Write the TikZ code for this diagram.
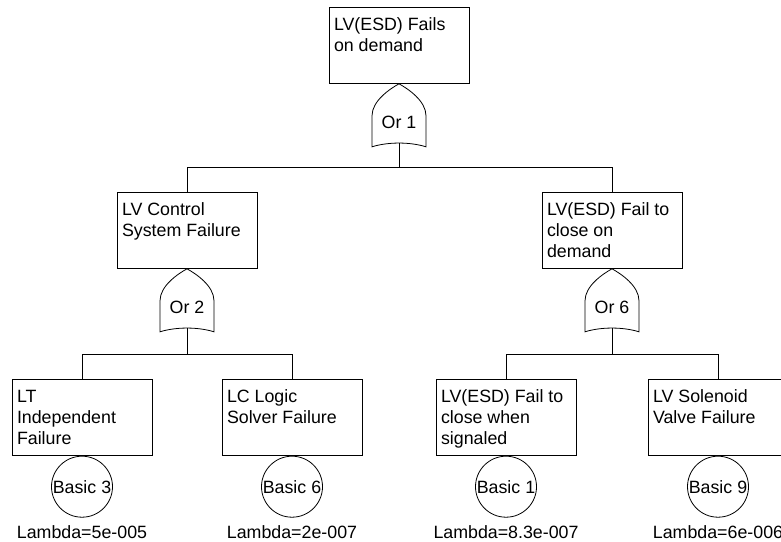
\documentclass[tikz,border=0pt]{standalone}
\usepackage{fontspec}
\setmainfont{Liberation Sans}
\usetikzlibrary{positioning,calc}

\newcommand{\evtxt}[1]{\parbox[c][60pt][t]{130pt}{\raggedright\strut #1}}

\tikzset{
  orgate/.pic={
    \draw[gateline] (0,0) .. controls (-9,5) and (-27,17) .. (-27,32) -- (-27,63)
      .. controls (-11,58) and (11,58) .. (27,63) -- (27,32)
      .. controls (27,17) and (9,5) .. (0,0);
    \node[gatelbl] (-lbl) at (0,39) {#1};
    \coordinate (-out) at (0,59.3);
  }
}

\begin{document}
\begin{tikzpicture}[
    every node/.style={font=\fontsize{17.8}{21}\selectfont},
    event/.style={rectangle, draw, line width=0.8pt, inner xsep=5pt,
        inner ysep=8pt, anchor=north},
    basic/.style={circle, draw, line width=0.8pt, minimum size=61pt,
        inner sep=0pt, anchor=north},
    lam/.style={inner sep=0pt},
    gatelbl/.style={inner sep=0pt},
    gateline/.style={line width=0.8pt},
    link/.style={line width=0.8pt},
    x=1pt, y=-1pt,
    ]
    \useasboundingbox (0,0) rectangle (781,541);
    % Top event
    \node[event] (top) at (399,7) {\evtxt{LV(ESD) Fails\\on demand}};
    \pic (g1) at (top.south) {orgate=Or 1};
    % Middle row
    \node[event] (ctl) at (187,192) {\evtxt{LV Control\\System Failure}};
    \node[event] (esd) at (612,192) {\evtxt{LV(ESD) Fail to\\close on\\demand}};
    \pic (g2) at (ctl.south) {orgate=Or 2};
    \pic (g6) at (esd.south) {orgate=Or 6};
    % Bottom row
    \node[event] (lt)  at (82,379)  {\evtxt{LT\\Independent\\Failure}};
    \node[event] (lc)  at (292,379) {\evtxt{LC Logic\\Solver Failure}};
    \node[event] (sig) at (506,379) {\evtxt{LV(ESD) Fail to\\close when\\signaled}};
    \node[event] (sol) at (718,379) {\evtxt{LV Solenoid\\Valve Failure}};
    % Basic events
    \node[basic] (b3) at (lt.south)  {Basic 3};
    \node[basic] (b6) at (lc.south)  {Basic 6};
    \node[basic] (b1) at (sig.south) {Basic 1};
    \node[basic] (b9) at (sol.south) {Basic 9};
    \node[lam, below=8pt of b3] (l3) {Lambda=5e-005};
    \node[lam, below=8pt of b6] (l6) {Lambda=2e-007};
    \node[lam, below=8pt of b1] (l1) {Lambda=8.3e-007};
    \node[lam, below=8pt of b9] (l9) {Lambda=6e-006};
    % Links
    \draw[link] (g1-out) -- ++(0,24.7) coordinate (j1);
    \draw[link] (ctl.north) |- (j1) -| (esd.north);
    \draw[link] (g2-out) -- ++(0,26) coordinate (j2);
    \draw[link] (lt.north) |- (j2) -| (lc.north);
    \draw[link] (g6-out) -- ++(0,26) coordinate (j6);
    \draw[link] (sig.north) |- (j6) -| (sol.north);
  \end{tikzpicture}
\end{document}
